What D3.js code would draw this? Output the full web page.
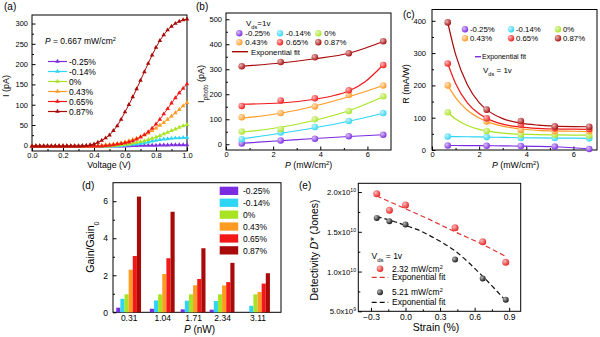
<!DOCTYPE html>
<meta charset="utf-8">
<style>
body { margin: 0; background: #fff; }
svg { font-family: "Liberation Sans", Arial, sans-serif; }
text { fill: #000; }
.frame { fill: none; stroke: #000; stroke-width: 1; }
.axis line { stroke: #000; stroke-width: 1; }
.axis text { fill: #000; }
</style>
<svg width="600" height="337"></svg>
<script src="https://d3js.org/d3.v7.min.js"></script>
<script>
var strains = ["-0.25%", "-0.14%", "0%", "0.43%", "0.65%", "0.87%"];
var colors = ["#7b2be2", "#2fd5f5", "#a8e424", "#ff9a22", "#f21818", "#a80a0a"];

// (a) I-V curves, P = 0.667 mW/cm2
var voltage = [0, 0.025, 0.05, 0.075, 0.1, 0.125, 0.15, 0.175, 0.2, 0.225, 0.25, 0.275, 0.3, 0.325, 0.35, 0.375, 0.4,
  0.425, 0.45, 0.475, 0.5, 0.525, 0.55, 0.575, 0.6, 0.625, 0.65, 0.675, 0.7, 0.725, 0.75, 0.775, 0.8, 0.825, 0.85,
  0.875, 0.9, 0.925, 0.95, 0.975, 1];
var ivM025 = [-2,-2,-2,-2,-2,-2,-2,-2,-2,-2,-2,-2,-2,-2,-2,-2,-2,-2,-2,-2,-2,-2,-2,-2,-2,
  -1.5,-1,-1,-0.5,-0.5,0,0,0,0.5,0.5,0.5,1,1,1,1,1];
var ivM014 = [-2,-2,-2,-2,-2,-2,-2,-2,-2,-2,-2,-2,-2,-2,-2,-2,-2,-2,-2,-2,-2,-2,-2,
  -1,0,1,2,3,4,6,8,10,12,14,15,16,17,18,18,19,19];
var iv0 = [-2,-2,-2,-2,-2,-2,-2,-2,-2,-2,-2,-2,-2,-2,-2,-2,-2,-2,-2,-2,-2,
  -1,0,1,2,3,5,7,9,11,14,17,20,24,28,32,36,40,44,48,51];
var iv043 = [-2,-2,-2,-2,-2,-2,-2,-2,-2,-2,-2,-2,-2,-2,-2,-2,-2,
  -1,0,1,2,3,4,6,8,11,14,17,21,25,30,36,42,49,56,64,72,80,88,97,105];
var iv065 = [-2,-2,-2,-2,-2,-2,-2,-2,-2,-2,-2,-2,-2,-2,-2,-2,-2,-2,-2,
  -1,0,1,3,4,6,8,11,15,20,26,33,42,52,64,77,90,104,117,129,140,151];
var iv087 = [-2,-2,-2,-2,-2,-2,-2,-2,-2,-2,-2,-2,-2,
  -1.5,-1,1,3,7,12,18,25,36,48,64,82,100,119,139,160,181,202,222,241,258,272,284,293,300,305,309,311];
var ivCurves = [ivM025, ivM014, iv0, iv043, iv065, iv087];

// (b) photocurrent vs power, Vds = 1 V
var power = [0.667, 2.32, 3.77, 5.21, 6.67];
var photoCurrent = [
  [3, 15, 22, 32, 38],
  [20, 47, 69, 93, 125],
  [51, 61, 100, 133, 192],
  [108, 125, 151, 197, 235],
  [153, 175, 184, 216, 317],
  [312, 329, 348, 364, 412]
];
var photoFit = [
  [[0.667, 4], [2.32, 14], [3.77, 23], [5.21, 31], [6.67, 38]],
  [[0.667, 22], [2.32, 44], [3.77, 66], [5.21, 92], [6.67, 124]],
  [[0.667, 48], [2.32, 68], [3.77, 96], [5.21, 134], [6.67, 190]],
  [[0.667, 104], [2.32, 124], [3.77, 153], [5.21, 190], [6.67, 235]],
  [[0.667, 160], [2.32, 165], [3.77, 180], [4.5, 193], [5.21, 213], [5.9, 250], [6.67, 318]],
  [[0.667, 312], [2.32, 325], [3.77, 342], [5.21, 364], [6.67, 411]]
];

// (c) responsivity vs power
var responsivity = [
  [14, 13, 12, 11, 3],
  [42, 40, 37, 37, 36],
  [117, 59, 48, 47, 45],
  [200, 88, 62, 58, 58],
  [268, 98, 78, 67, 65],
  [395, 125, 90, 73, 72]
];
var fitPower = [0.667, 1, 1.5, 2, 2.32, 3, 3.77, 4.5, 5.21, 6, 6.67];
var respFit = [
  [14, 14, 13.8, 13.5, 13.3, 12.8, 12, 11.3, 10, 7, 3],
  [42, 41.5, 41, 40.5, 40, 39, 38, 37.5, 37, 36.5, 36],
  [117, 96, 76, 64, 59, 52, 49, 47.5, 46.7, 46.3, 46],
  [200, 162, 123, 99, 88, 74, 65, 61, 59, 58, 57],
  [268, 206, 146, 112, 98, 80, 71, 67, 65, 64.5, 64],
  [395, 296, 202, 147, 125, 97, 83, 77, 74, 72.5, 72]
];

// (d) gain ratio
var gainPower = [0.31, 1.04, 1.71, 2.34, 3.11];
var gainRatio = [
  [0.25, 0.19, 0.16, 0.14, 0],
  [0.73, 0.64, 0.63, 0.61, 0.35],
  [0.97, 0.97, 0.97, 0.97, 0.97],
  [2.3, 2.07, 1.46, 1.45, 1.1],
  [3.04, 2.92, 1.8, 1.63, 1.55],
  [6.25, 5.43, 3.46, 2.67, 2.11]
];

// (e) detectivity vs strain
var strainVal = [-0.25, -0.14, 0, 0.43, 0.67, 0.87];
var det232 = [1.979e10, 1.771e10, 1.8375e10, 1.55e10, 1.375e10, 1.117e10];
var det521 = [1.675e10, 1.633e10, 1.592e10, 1.15e10, 0.9125e10, 0.646e10];
var fit232 = [[-0.25, 1.95e10], [0, 1.79e10], [0.2, 1.66e10], [0.43, 1.5e10], [0.67, 1.34e10], [0.87, 1.19e10]];
var fit521 = [[-0.25, 1.69e10], [-0.1, 1.63e10], [0, 1.58e10], [0.1, 1.53e10], [0.2, 1.46e10], [0.3, 1.38e10],
  [0.43, 1.26e10], [0.55, 1.11e10], [0.67, 0.94e10], [0.77, 0.79e10], [0.87, 0.63e10]];

var svg = d3.select("svg");
var defs = svg.append("defs");

function ball(id, c) {
  var g = defs.append("radialGradient").attr("id", id)
      .attr("cx", "35%").attr("cy", "35%").attr("r", "70%");
  g.append("stop").attr("offset", "0%").attr("stop-color", d3.interpolateRgb(c, "#fff")(0.7));
  g.append("stop").attr("offset", "100%").attr("stop-color", c);
}
colors.forEach(function(c, i) { ball("ball" + i, c); });
ball("ballR", "#e82020");
ball("ballK", "#111");

function rich(t, parts) {
  parts.forEach(function(p) {
    var s = t.append("tspan").text(p[0]);
    if (p[1] == "i") s.attr("font-style", "italic");
    if (p[1] == "sub") s.attr("font-size", "70%").attr("baseline-shift", "sub");
    if (p[1] == "sup") s.attr("font-size", "65%").attr("baseline-shift", "super");
  });
  return t;
}

function label(x, y, size, parts, rot) {
  var t = svg.append("text").attr("font-size", size);
  if (rot) t.attr("transform", "translate(" + x + "," + y + ") rotate(-90)").attr("text-anchor", "middle");
  else t.attr("x", x).attr("y", y);
  return rich(t, parts);
}

// inward ticks on bottom and left, plus a closed frame
function axes(x, y, o) {
  var g = svg.append("g"),
      bot = y.range()[0], top = y.range()[1],
      lft = x.range()[0], rgt = x.range()[1];
  g.append("g").attr("class", "axis").attr("transform", "translate(0," + bot + ")")
      .call(d3.axisBottom(x).tickValues(o.xt).tickFormat(o.xf).tickSize(-o.xlen).tickPadding(o.xpad));
  g.append("g").attr("class", "axis").attr("transform", "translate(0," + bot + ")")
      .call(d3.axisBottom(x).tickValues(o.xm).tickFormat("").tickSize(-2));
  g.append("g").attr("class", "axis").attr("transform", "translate(" + lft + ",0)")
      .call(d3.axisLeft(y).tickValues(o.yt).tickFormat(o.yf).tickSize(-3.5).tickPadding(o.ypad));
  g.append("g").attr("class", "axis").attr("transform", "translate(" + lft + ",0)")
      .call(d3.axisLeft(y).tickValues(o.ym).tickFormat("").tickSize(-2));
  g.selectAll(".axis").attr("font-family", null).attr("font-size", o.fs);
  g.selectAll(".domain").remove();
  g.append("rect").attr("class", "frame")
      .attr("x", lft).attr("y", top).attr("width", rgt - lft).attr("height", bot - top);
  return g;
}

// ---------- (a)
var xA = d3.scaleLinear().domain([0, 1]).range([32, 187]);
var yA = d3.scaleLinear().domain([-14, 321]).range([151, 15]);
axes(xA, yA, {xt: [0, 0.2, 0.4, 0.6, 0.8, 1], xm: [0.1, 0.3, 0.5, 0.7, 0.9], xf: d3.format(".1f"),
  yt: [0, 50, 100, 150, 200, 250, 300], ym: [25, 75, 125, 175, 225, 275], yf: d3.format("d"),
  fs: 7.5, xpad: 2, ypad: 4, xlen: 3.5});
var tri = d3.symbol(d3.symbolTriangle, 9);
var lineA = d3.line().x(function(d, i) { return xA(voltage[i]); }).y(function(d) { return yA(d); });
ivCurves.forEach(function(s, k) {
  svg.append("path").datum(s).attr("d", lineA)
      .attr("fill", "none").attr("stroke", colors[k]).attr("stroke-width", 1);
  svg.append("g").selectAll("path").data(s).join("path")
      .attr("d", tri).attr("fill", colors[k])
      .attr("transform", function(d, i) { return "translate(" + xA(voltage[i]) + "," + yA(d) + ")"; });
});
label(45, 44, 8.5, [["P", "i"], [" = 0.667 mW/cm"], ["2", "sup"]]);
strains.forEach(function(s, k) {
  var yy = 61.5 + k * 10;
  svg.append("line").attr("x1", 48).attr("x2", 67).attr("y1", yy).attr("y2", yy)
      .attr("stroke", colors[k]).attr("stroke-width", 1.2);
  svg.append("path").attr("d", tri).attr("fill", colors[k]).attr("transform", "translate(57.5," + yy + ")");
  svg.append("text").attr("x", 69).attr("y", yy + 3).attr("font-size", 8.5).text(s);
});
label(8.5, 86, 9, [["I (pA)"]], true);
svg.append("text").attr("x", 109).attr("y", 168).attr("font-size", 8.8).attr("text-anchor", "middle").text("Voltage (V)");
svg.append("text").attr("x", 4).attr("y", 10).attr("font-size", 10).text("(a)");

// ---------- (b)
var xB = d3.scaleLinear().domain([0, 7]).range([226, 391]);
var yB = d3.scaleLinear().domain([-23, 525]).range([150, 13]);
axes(xB, yB, {xt: [0, 2, 4, 6], xm: [1, 3, 5], xf: d3.format("d"),
  yt: [0, 100, 200, 300, 400, 500], ym: [50, 150, 250, 350, 450], yf: d3.format("d"),
  fs: 7.5, xpad: 2, ypad: 4, xlen: 3.5});
var lineB = d3.line().curve(d3.curveMonotoneX)
    .x(function(d) { return xB(d[0]); }).y(function(d) { return yB(d[1]); });
photoFit.forEach(function(f, k) {
  svg.append("path").datum(f).attr("d", lineB)
      .attr("fill", "none").attr("stroke", colors[k]).attr("stroke-width", 1.2);
});
photoCurrent.forEach(function(s, k) {
  svg.append("g").selectAll("circle").data(s).join("circle")
      .attr("cx", function(d, i) { return xB(power[i]); }).attr("cy", function(d) { return yB(d); })
      .attr("r", 3.3).attr("fill", "url(#ball" + k + ")");
});
label(246, 26, 8, [["V"], ["ds", "sub"], ["=1v"]]);
strains.forEach(function(s, k) {
  var cx = [239.3, 280, 318.3][k % 3], cy = [33.3, 42.3][Math.floor(k / 3)];
  svg.append("circle").attr("cx", cx).attr("cy", cy).attr("r", 3.2).attr("fill", "url(#ball" + k + ")");
  svg.append("text").attr("x", cx + 6).attr("y", cy + 3).attr("font-size", 7.8).text(s);
});
svg.append("line").attr("x1", 232).attr("x2", 248).attr("y1", 51.7).attr("y2", 51.7)
    .attr("stroke", colors[5]).attr("stroke-width", 1.4);
svg.append("text").attr("x", 251).attr("y", 54.5).attr("font-size", 7.8).text("Exponential fit");
label(204, 84, 9, [["I"], ["photo", "sub"], [" (pA)"]], true);
label(285, 168, 8.8, [["P", "i"], [" (mW/cm"], ["2", "sup"], [")"]]);
svg.append("text").attr("x", 196).attr("y", 10).attr("font-size", 10).text("(b)");

// ---------- (c)
var xC = d3.scaleLinear().domain([0, 7]).range([432, 597]);
var yC = d3.scaleLinear().domain([0, 435]).range([150, 9.5]);
axes(xC, yC, {xt: [0, 2, 4, 6], xm: [1, 3, 5], xf: d3.format("d"),
  yt: [0, 100, 200, 300, 400], ym: [50, 150, 250, 350], yf: d3.format("d"),
  fs: 7.5, xpad: 2, ypad: 6, xlen: 3.5});
var lineC = d3.line().curve(d3.curveMonotoneX)
    .x(function(d, i) { return xC(fitPower[i]); }).y(function(d) { return yC(d); });
respFit.forEach(function(f, k) {
  svg.append("path").datum(f).attr("d", lineC)
      .attr("fill", "none").attr("stroke", colors[k]).attr("stroke-width", 1.2);
});
responsivity.forEach(function(s, k) {
  svg.append("g").selectAll("circle").data(s).join("circle")
      .attr("cx", function(d, i) { return xC(power[i]); }).attr("cy", function(d) { return yC(d); })
      .attr("r", 3.3).attr("fill", "url(#ball" + k + ")");
});
strains.forEach(function(s, k) {
  var cx = [465, 511, 558][k % 3], cy = [29.3, 38.3][Math.floor(k / 3)];
  svg.append("circle").attr("cx", cx).attr("cy", cy).attr("r", 3.2).attr("fill", "url(#ball" + k + ")");
  svg.append("text").attr("x", cx + 5).attr("y", cy + 3).attr("font-size", 7.8).text(s);
});
svg.append("line").attr("x1", 475).attr("x2", 481).attr("y1", 56.7).attr("y2", 56.7)
    .attr("stroke", colors[0]).attr("stroke-width", 1.4);
svg.append("text").attr("x", 482).attr("y", 59).attr("font-size", 7).text("Exponential fit");
label(483, 73, 8, [["V"], ["ds", "sub"], [" = 1v"]]);
label(409, 84, 9, [["R (mA/W)"]], true);
label(492, 168, 8.8, [["P", "i"], [" (mW/cm"], ["2", "sup"], [")"]]);
svg.append("text").attr("x", 403).attr("y", 18).attr("font-size", 10).text("(c)");

// ---------- (d)
var xD = d3.scaleLinear().domain([-0.03, 3.62]).range([113, 281]);
var yD = d3.scaleLinear().domain([0, 7]).range([312.3, 182.7]);
var inner = d3.scaleBand().domain(strains).range([-12.4, 12.4]);
axes(xD, yD, {xt: gainPower, xm: [], xf: d3.format(".2f"),
  yt: [0, 2, 4, 6], ym: [1, 3, 5], yf: d3.format("d"),
  fs: 8.5, xpad: 3, ypad: 5, xlen: 0});
gainRatio.forEach(function(s, k) {
  svg.append("g").selectAll("rect").data(s).join("rect")
      .attr("x", function(d, i) { return xD(gainPower[i]) + inner(strains[k]); })
      .attr("width", inner.bandwidth())
      .attr("y", function(d) { return yD(d); })
      .attr("height", function(d) { return yD(0) - yD(d); })
      .attr("fill", colors[k]);
});
strains.forEach(function(s, k) {
  var yy = 186.7 + k * 11.9;
  svg.append("rect").attr("x", 219.7).attr("y", yy).attr("width", 18.5).attr("height", 8.3).attr("fill", colors[k]);
  svg.append("text").attr("x", 243).attr("y", yy + 7.5).attr("font-size", 8.5).text(s);
});
label(94, 247, 10.5, [["Gain/Gain"], ["0", "sub"]], true);
label(184, 333, 10, [["P", "i"], [" (nW)"]]);
svg.append("text").attr("x", 82).attr("y", 189).attr("font-size", 10).text("(d)");

// ---------- (e)
var xE = d3.scaleLinear().domain([-0.41, 1.0]).range([358.3, 520.7]);
var yE = d3.scaleLinear().domain([5e9, 2.11e10]).range([311.3, 183.3]);
axes(xE, yE, {xt: [-0.3, 0, 0.3, 0.6, 0.9], xm: [-0.15, 0.15, 0.45, 0.75], xf: d3.format(".1f"),
  yt: [5e9, 1e10, 1.5e10, 2e10], ym: [7.5e9, 1.25e10, 1.75e10], yf: function() { return ""; },
  fs: 8.5, xpad: 3, ypad: 3, xlen: 3.5});
[5e9, 1e10, 1.5e10, 2e10].forEach(function(v) {
  var e = Math.floor(Math.log10(v)), m = v / Math.pow(10, e);
  var t = svg.append("text").attr("x", 356).attr("y", yE(v) + 3).attr("font-size", 7.8).attr("text-anchor", "end");
  rich(t, [[m.toFixed(1) + "x10"], [String(e), "sup"]]);
});
var lineE = d3.line().curve(d3.curveMonotoneX)
    .x(function(d) { return xE(d[0]); }).y(function(d) { return yE(d[1]); });
svg.append("path").datum(fit232).attr("d", lineE).attr("fill", "none")
    .attr("stroke", "#e03030").attr("stroke-width", 1.2).attr("stroke-dasharray", "5,3");
svg.append("path").datum(fit521).attr("d", lineE).attr("fill", "none")
    .attr("stroke", "#111").attr("stroke-width", 1.2).attr("stroke-dasharray", "5,3");
svg.append("g").selectAll("circle").data(det232).join("circle")
    .attr("cx", function(d, i) { return xE(strainVal[i]); }).attr("cy", function(d) { return yE(d); })
    .attr("r", 3.5).attr("fill", "url(#ballR)");
svg.append("g").selectAll("circle").data(det521).join("circle")
    .attr("cx", function(d, i) { return xE(strainVal[i]); }).attr("cy", function(d) { return yE(d); })
    .attr("r", 3).attr("fill", "url(#ballK)");
label(371.5, 259, 8.5, [["V"], ["ds", "sub"], [" = 1v"]]);
svg.append("circle").attr("cx", 380).attr("cy", 268.7).attr("r", 3.3).attr("fill", "url(#ballR)");
label(392, 271.5, 8.5, [["2.32 mW/cm"], ["2", "sup"]]);
svg.append("line").attr("x1", 371.7).attr("x2", 388.3).attr("y1", 277.3).attr("y2", 277.3)
    .attr("stroke", "#e03030").attr("stroke-width", 1.2).attr("stroke-dasharray", "5,3");
svg.append("text").attr("x", 392).attr("y", 280.3).attr("font-size", 8.5).text("Exponential fit");
svg.append("circle").attr("cx", 380).attr("cy", 292.3).attr("r", 3).attr("fill", "url(#ballK)");
label(392, 295, 8.5, [["5.21 mW/cm"], ["2", "sup"]]);
svg.append("line").attr("x1", 371.7).attr("x2", 388.3).attr("y1", 302.3).attr("y2", 302.3)
    .attr("stroke", "#111").attr("stroke-width", 1.2).attr("stroke-dasharray", "5,3");
svg.append("text").attr("x", 392).attr("y", 305.3).attr("font-size", 8.5).text("Exponential fit");
label(318, 250, 10.5, [["Detectivity "], ["D*", "i"], [" (Jones)"]], true);
svg.append("text").attr("x", 436).attr("y", 331).attr("font-size", 10.5).attr("text-anchor", "middle").text("Strain (%)");
svg.append("text").attr("x", 299).attr("y", 189).attr("font-size", 10).text("(e)");
</script>
